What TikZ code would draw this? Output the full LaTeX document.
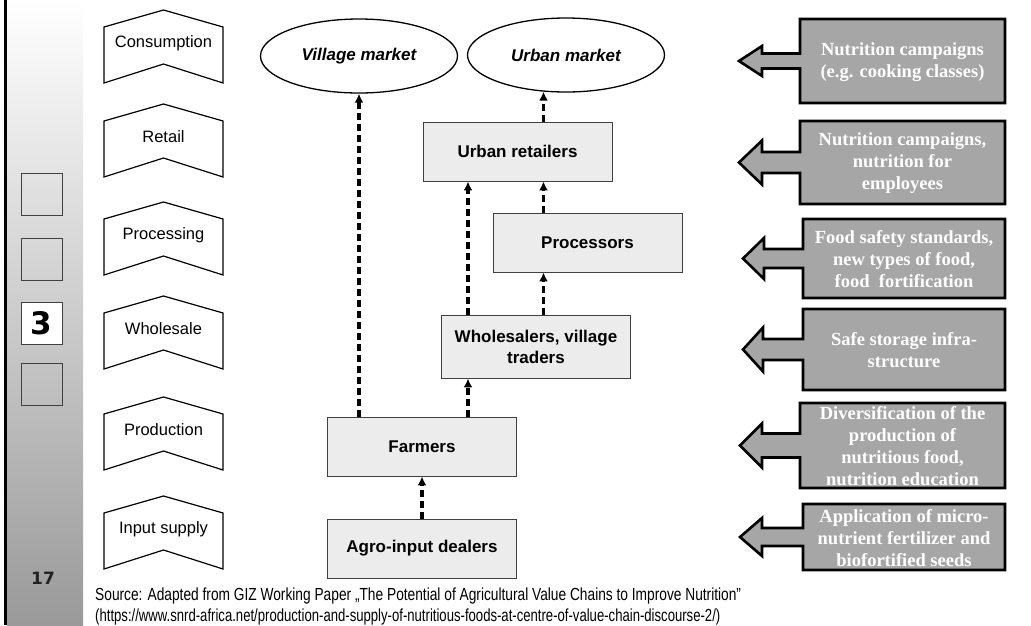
\documentclass[tikz,border=0pt]{standalone}
\usepackage{fontspec}
\setmainfont{Liberation Sans}
\newfontfamily\serifbold{Liberation Serif}
\newfontfamily\numfont{DejaVu Sans}
\newfontfamily\srcfont{Liberation Sans}[FakeStretch=0.785]
\newfontfamily\urlfont{Liberation Sans}[FakeStretch=0.75]
\usetikzlibrary{arrows.meta,shapes.geometric,calc}

\definecolor{boxfill}{HTML}{ECECEC}
\definecolor{callfill}{HTML}{A6A6A6}
\definecolor{boxline}{HTML}{404040}
\definecolor{sidegray}{HTML}{999999}
\definecolor{numgray}{HTML}{222222}

\tikzset{
  stageshape/.style={draw=black, line width=1.2pt, fill=white, line join=miter},
  stagetext/.style={font=\fontsize{16.5}{19}\selectfont, inner sep=0pt},
  chainbox/.style={draw=boxline, line width=0.9pt, fill=boxfill, minimum width=189pt,
    minimum height=59pt, inner sep=2pt, align=center,
    font=\fontsize{17}{21}\selectfont\bfseries},
  market/.style={ellipse, draw=black, line width=1.3pt, minimum width=197pt,
    minimum height=74pt, inner sep=0pt, font=\fontsize{17}{20}\selectfont\bfseries\itshape},
  flow/.style={line width=3.2pt, dash pattern=on 7pt off 4pt,
    -{Latex[length=9pt,width=9pt]}},
  callshape/.style={draw=black, line width=2.6pt, fill=callfill, line join=miter},
  calltext/.style={text=white, align=center, inner sep=0pt,
    font=\serifbold\fontsize{18.5}{22}\selectfont\bfseries},
  navbox/.style={draw=boxline, line width=0.8pt, minimum width=41pt,
    minimum height=42pt, inner sep=0pt},
}

% chevron stage label: name, peak y, text
\newcommand\stagechev[3]{%
  \draw[stageshape] (104,#2+17) -- (163.5,#2) -- (223,#2+17) -- (223,#2+73)
    -- (163.5,#2+54) -- (104,#2+73) -- cycle;
  \node[stagetext] (#1) at (163.5,#2+33) {#3};}

% box with a block arrow pointing left:
% name, top, bottom, left, tip x, head back x, head half, shaft half, text
\newcommand\callout[9]{%
  \pgfmathsetmacro\callmid{(#2+#3)/2}%
  \draw[callshape] (#4,#2) -- (1005,#2) -- (1005,#3) -- (#4,#3)
    -- (#4,\callmid+#8) -- (#6,\callmid+#8) -- (#6,\callmid+#7) -- (#5,\callmid)
    -- (#6,\callmid-#7) -- (#6,\callmid-#8) -- (#4,\callmid-#8) -- cycle;
  \node[calltext] (#1) at ({(#4+1005)/2},\callmid+1) {#9};}

\begin{document}
\begin{tikzpicture}[x=1pt,y=-1pt]
\useasboundingbox (0,0) rectangle (1031,625);
\clip (0,0) rectangle (1031,625);
\fill[white] (0,0) rectangle (1031,625);

% side bar
\shade[top color=white, bottom color=sidegray] (7,0) rectangle (83,625);
\draw[line width=3pt] (5.5,0) -- (5.5,625);
\node[navbox] (nav1) at (41.5,194) {};
\node[navbox] (nav2) at (41.5,259) {};
\node[navbox, fill=white, font=\numfont\bfseries\fontsize{31}{31}\selectfont] (nav3) at (41.5,323.5) {3};
\node[navbox] (nav4) at (41.5,384) {};
\node[font=\numfont\bfseries\fontsize{17}{17}\selectfont, text=numgray] (page) at (43,578) {17};

% stages
\stagechev{consumption}{10}{Consumption}
\stagechev{retail}{104}{Retail}
\stagechev{processing}{202}{Processing}
\stagechev{wholesale}{296}{Wholesale}
\stagechev{production}{397}{Production}
\stagechev{input}{496}{Input supply}

% value chain
\node[market] (vil) at (359,56) {Village market};
\node[market] (urb) at (566,55) {Urban market};
\node[chainbox] (ret) at (517.5,151.5) {Urban retailers};
\node[chainbox] (proc) at (587.5,242.5) {Processors};
\node[chainbox, minimum height=63pt] (whs) at (536,346.5) {Wholesalers, village\\traders};
\node[chainbox] (farm) at (422,446.5) {Farmers};
\node[chainbox] (agro) at (422,548.5) {Agro-input dealers};

\coordinate (colB) at (468,0);
\coordinate (colC) at (543.5,0);

\draw[flow] (agro.north) -- (farm.south);
\draw[flow] (vil.south |- farm.north) -- (vil.south);
\draw[flow] (farm.north -| colB) -- (whs.south -| colB);
\draw[flow] (whs.north -| colB) -- (ret.south -| colB);
\draw[flow] (whs.north -| colC) -- (proc.south -| colC);
\draw[flow] (proc.north -| colC) -- (ret.south -| colC);
\draw[flow] (ret.north -| colC) -- ($(urb.south -| colC)+(0,-1)$);

% measures
\callout{m1}{19}{103}{800}{739}{762}{15}{7.5}{Nutrition campaigns\\(e.g. cooking classes)}
\callout{m2}{121}{204}{800}{739}{762}{22}{10.5}{Nutrition campaigns,\\nutrition for\\employees}
\callout{m3}{219}{298}{803}{743}{764}{20.5}{9.5}{Food safety standards,\\new types of food,\\food\ \ fortification}
\callout{m4}{309}{390}{803}{743}{763}{22}{10.5}{Safe storage infra-\\structure}
\callout{m5}{403}{488}{800}{740}{762}{22}{12}{Diversification of the\\production of\\nutritious food,\\nutrition education}
\callout{m6}{504}{570}{803}{740}{762}{19}{9}{Application of micro-\\nutrient fertilizer and\\biofortified seeds}

% source
\node[anchor=base west, inner sep=0pt, font=\srcfont\fontsize{17.5}{20}\selectfont] (src1) at (95,600)
  {Source: Adapted from GIZ Working Paper „The Potential of Agricultural Value Chains to Improve Nutrition”};
\node[anchor=base west, inner sep=0pt, font=\urlfont\fontsize{17.5}{20}\selectfont] (src2) at (95,621)
  {(https://www.snrd-africa.net/production-and-supply-of-nutritious-foods-at-centre-of-value-chain-discourse-2/)};
\end{tikzpicture}
\end{document}
